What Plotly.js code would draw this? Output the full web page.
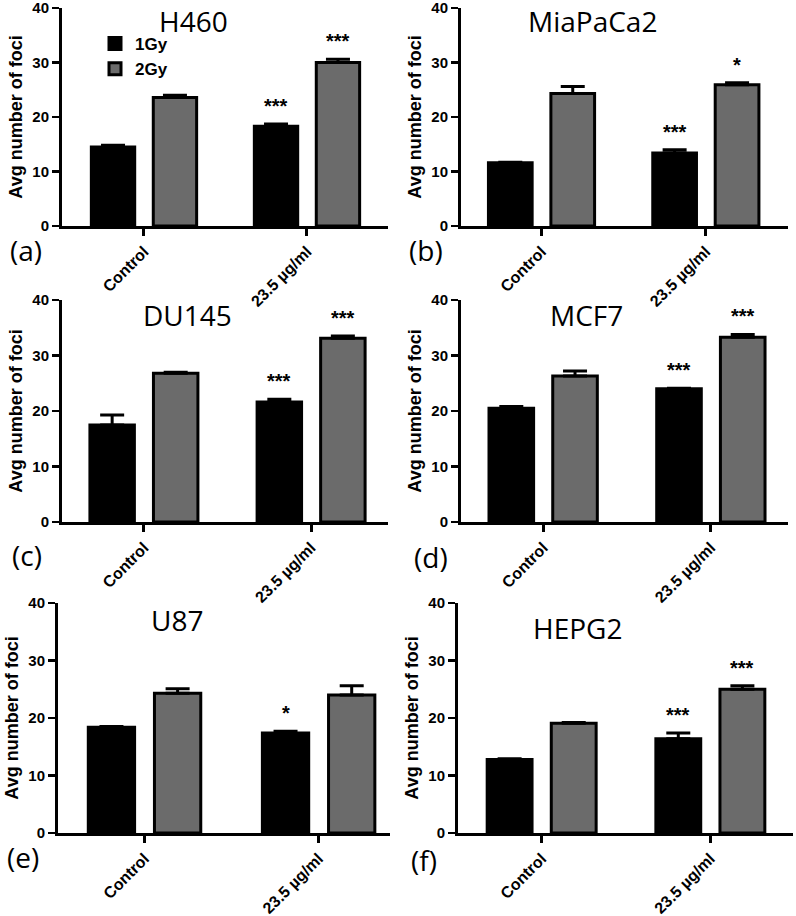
<!DOCTYPE html>
<html><head><meta charset="utf-8">
<script src="https://cdn.plot.ly/plotly-3.0.1.min.js"></script>
<style>html,body{margin:0;padding:0;background:#fff}#chart{width:796px;height:916px}</style>
</head><body><div id="chart"></div>
<script>
// ---- data ----
const categories = ['Control', '23.5 µg/ml'];
const seriesNames = ['1Gy', '2Gy'];
const cellLines = ['H460', 'MiaPaCa2', 'DU145', 'MCF7', 'U87', 'HEPG2'];
const panelLetters = ['(a)', '(b)', '(c)', '(d)', '(e)', '(f)'];
const yTickVals = [0, 10, 20, 30, 40];
const yAxisTitle = 'Avg number of foci';

const h460_1Gy = [14.5, 18.3],  h460_1GyErr = [0.3, 0.4];
const h460_2Gy = [23.6, 30.0],  h460_2GyErr = [0.4, 0.6];
const mia_1Gy  = [11.6, 13.4],  mia_1GyErr  = [0.1, 0.6];
const mia_2Gy  = [24.3, 25.9],  mia_2GyErr  = [1.3, 0.4];
const du145_1Gy = [17.5, 21.6], du145_1GyErr = [1.8, 0.5];
const du145_2Gy = [26.8, 33.1], du145_2GyErr = [0.2, 0.4];
const mcf7_1Gy = [20.5, 24.0],  mcf7_1GyErr = [0.3, 0.1];
const mcf7_2Gy = [26.3, 33.3],  mcf7_2GyErr = [0.9, 0.5];
const u87_1Gy  = [18.4, 17.4],  u87_1GyErr  = [0.1, 0.3];
const u87_2Gy  = [24.3, 24.0],  u87_2GyErr  = [0.8, 1.6];
const hepg2_1Gy = [12.8, 16.4], hepg2_1GyErr = [0.1, 1.0];
const hepg2_2Gy = [19.1, 25.0], hepg2_2GyErr = [0.1, 0.6];

const h460_sig1 = ['', '***'],  h460_sig2 = ['', '***'];
const mia_sig1  = ['', '***'],  mia_sig2  = ['', '*'];
const du145_sig1 = ['', '***'], du145_sig2 = ['', '***'];
const mcf7_sig1 = ['', '***'],  mcf7_sig2 = ['', '***'];
const u87_sig1  = ['', '*'],    u87_sig2  = ['', ''];
const hepg2_sig1 = ['', '***'], hepg2_sig2 = ['', '***'];

const panelData = [
  [[h460_1Gy, h460_1GyErr, h460_sig1], [h460_2Gy, h460_2GyErr, h460_sig2]],
  [[mia_1Gy, mia_1GyErr, mia_sig1], [mia_2Gy, mia_2GyErr, mia_sig2]],
  [[du145_1Gy, du145_1GyErr, du145_sig1], [du145_2Gy, du145_2GyErr, du145_sig2]],
  [[mcf7_1Gy, mcf7_1GyErr, mcf7_sig1], [mcf7_2Gy, mcf7_2GyErr, mcf7_sig2]],
  [[u87_1Gy, u87_1GyErr, u87_sig1], [u87_2Gy, u87_2GyErr, u87_sig2]],
  [[hepg2_1Gy, hepg2_1GyErr, hepg2_sig1], [hepg2_2Gy, hepg2_2GyErr, hepg2_sig2]]
];

// ---- layout geometry (px) ----
const W = 796, H = 916;
const boxes = [[62,388,8,226],[461,788,8,226],[62,388,300,522],[461,788,300,522],[58,390,603,833],[458,793,603,833]];
const xRanges = [[-0.503,1.497],[-0.49,1.5],[-0.49,1.46],[-0.49,1.46],[-0.497,1.41],[-0.496,1.49]];
const titlePos = [[193,0,'top'],[592,0,'top'],[187,315,'middle'],[586,315,'middle'],[177,620,'middle'],[577,628,'middle']];
const letterPos = [[26,250],[426,250],[27,555],[431,557],[23,857],[424,860]];
const colors = ['#000000', '#6b6b6b'];
const bargap = 0.24, bargroupgap = 0.3;
const offs = [-(1 - bargap) / 4, (1 - bargap) / 4];

const boldArial = {family: 'Liberation Sans, Arial, sans-serif', color: '#000', weight: 'bold'};
const traces = [], annotations = [];
const layout = {
  width: W, height: H, margin: {l: 0, r: 0, t: 0, b: 0},
  paper_bgcolor: '#fff', plot_bgcolor: '#fff',
  barmode: 'group', bargap: bargap, bargroupgap: bargroupgap,
  showlegend: true,
  legend: {x: 95 / W, y: 1 - 26 / H, xanchor: 'left', yanchor: 'top',
           bgcolor: 'rgba(0,0,0,0)', font: Object.assign({}, boldArial, {size: 17}),
           tracegroupgap: 0},
  annotations: annotations
};

panelData.forEach((pd, i) => {
  const n = i + 1;
  const xa = 'x' + (n === 1 ? '' : n), ya = 'y' + (n === 1 ? '' : n);
  const [x0, x1, y0, y1] = boxes[i];
  pd.forEach((s, k) => {
    traces.push({
      type: 'bar', name: seriesNames[k], x: categories, y: s[0],
      xaxis: xa, yaxis: ya, showlegend: i === 0,
      marker: {color: colors[k], line: {color: '#000', width: 3}},
      error_y: {type: 'data', symmetric: false, array: s[1], arrayminus: s[1].map(() => 0),
                color: '#000', thickness: 3, width: 12},
      hoverinfo: 'skip'
    });
    s[2].forEach((txt, c) => {
      if (!txt) return;
      annotations.push({
        xref: xa, yref: ya, x: c + offs[k], y: s[0][c] + s[1][c],
        text: txt, showarrow: false, yanchor: 'bottom', yshift: 5,
        font: Object.assign({}, boldArial, {size: 20})
      });
    });
  });
  layout['xaxis' + (n === 1 ? '' : n)] = {
    domain: [x0 / W, x1 / W], anchor: ya, type: 'category', range: xRanges[i],
    showline: true, linewidth: 3, linecolor: '#000', ticks: 'outside', ticklen: 7,
    tickwidth: 3, tickcolor: '#000', tickangle: -45, showgrid: false, zeroline: false,
    tickfont: Object.assign({}, boldArial, {size: 16}), fixedrange: true
  };
  layout['yaxis' + (n === 1 ? '' : n)] = {
    domain: [1 - y1 / H, 1 - y0 / H], anchor: xa, range: [0, 40],
    tickvals: yTickVals, showline: true, linewidth: 3, linecolor: '#000',
    ticks: 'outside', ticklen: 7, tickwidth: 2.5, tickcolor: '#000',
    showgrid: false, zeroline: false, ticklabelstandoff: 0, ticklabeloverflow: 'allow',
    tickfont: Object.assign({}, boldArial, {size: 15}),
    title: {text: yAxisTitle, standoff: 6, font: Object.assign({}, boldArial, {size: 18})},
    fixedrange: true
  };
  annotations.push({
    xref: 'paper', yref: 'paper', x: titlePos[i][0] / W, y: 1 - titlePos[i][1] / H,
    text: cellLines[i], showarrow: false, xanchor: 'center', yanchor: titlePos[i][2],
    font: {family: 'Open Sans, sans-serif', size: 28, color: '#000'}
  });
  annotations.push({
    xref: 'paper', yref: 'paper', x: letterPos[i][0] / W, y: 1 - letterPos[i][1] / H,
    text: panelLetters[i], showarrow: false, xanchor: 'center', yanchor: 'middle',
    font: {family: 'Open Sans, sans-serif', size: 28, color: '#000'}
  });
});

Plotly.newPlot('chart', traces, layout, {displayModeBar: false, staticPlot: true});
</script>
</body></html>
